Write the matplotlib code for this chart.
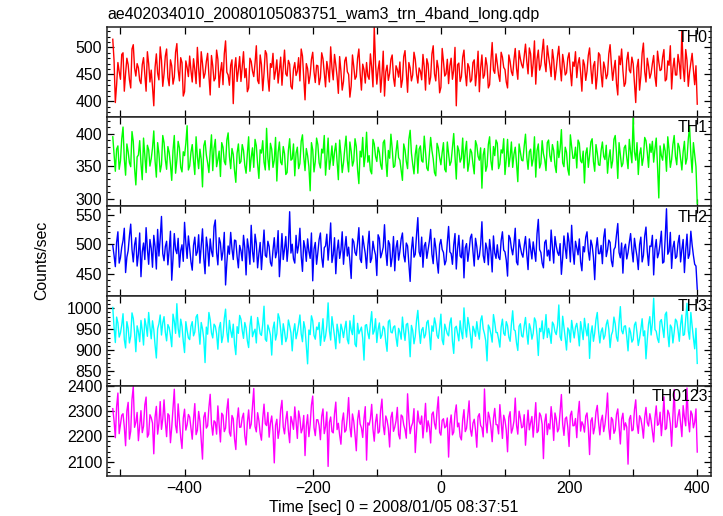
import numpy as np
import matplotlib
matplotlib.use("Agg")
import matplotlib.pyplot as plt
from matplotlib.ticker import MultipleLocator, FuncFormatter

plt.rcParams['font.family'] = ['Liberation Sans', 'DejaVu Sans']

title = "ae402034010_20080105083751_wam3_trn_4band_long.qdp"
xlabel = "Time [sec] 0 = 2008/01/05 08:37:51"
ylabel = "Counts/sec"
band_names = ["TH0", "TH1", "TH2", "TH3", "TH0123"]
band_colors = ["#ff0000", "#00ff00", "#0000ff", "#00ffff", "#ff00ff"]
t_start = -512.0
t_bin = 2.0

th0 = [515,476,398,431,472,455,441,487,490,419,452,480,468,440,425,497,505,462,447,470,
       462,439,433,468,481,450,419,492,470,436,458,427,392,463,488,452,440,501,476,428,
       451,484,497,444,429,477,466,432,445,491,507,459,438,481,472,410,418,475,463,446,
       484,457,436,479,459,433,500,461,427,492,470,443,452,474,489,448,412,485,466,438,
       443,495,478,426,455,472,431,488,512,454,449,430,467,477,396,461,481,437,458,483,
       437,465,492,444,461,418,425,480,474,456,446,471,503,439,433,486,468,420,452,494,
       488,445,419,470,463,489,441,456,477,434,458,482,430,464,495,451,447,476,469,428,
       423,460,472,448,456,481,438,497,484,442,403,470,461,433,449,478,491,455,435,467,
       466,431,444,490,479,453,427,474,458,436,501,462,440,487,468,446,415,483,456,421,
       437,475,482,455,450,408,429,486,465,441,446,480,497,452,421,469,459,434,472,447,
       441,488,463,427,538,470,432,459,475,417,448,493,410,455,467,439,452,478,486,444,
       428,466,459,445,473,426,440,483,494,457,417,472,462,438,449,491,478,451,434,462,
       456,440,487,464,421,479,469,432,445,488,503,451,438,476,461,416,426,498,474,447,
       451,478,433,466,480,441,458,500,392,468,471,437,446,482,495,454,429,470,463,436,
       440,472,477,429,455,493,418,462,486,443,449,481,466,425,431,475,509,458,452,488,
       470,449,437,491,482,463,459,436,425,486,474,455,448,477,498,461,441,494,479,468,
       462,485,506,474,451,499,488,446,470,512,432,478,495,458,467,490,515,472,455,503,
       483,467,446,496,477,440,460,484,502,464,438,487,471,449,453,480,490,457,429,473,
       465,492,444,470,481,453,419,477,468,439,456,485,499,461,433,466,474,423,448,490,
       486,451,427,473,462,442,450,488,505,469,439,460,476,433,412,484,468,497,457,428,
       434,476,491,458,453,482,470,435,398,463,478,421,447,489,508,455,436,480,465,443,
       452,470,485,446,428,493,473,457,459,482,496,438,441,475,467,503,423,461,480,449,
       449,487,470,442,531,463,437,496,476,428,454,471,489,458,431,466,395]

th1 = [395,368,342,376,381,345,358,392,410,361,336,384,372,355,349,403,388,347,321,364,
       367,389,354,329,393,366,340,382,375,350,361,378,404,358,333,386,369,341,352,397,
       386,360,345,380,371,352,328,374,397,339,359,388,378,348,341,372,366,385,412,344,
       350,371,383,358,337,395,364,346,376,360,318,381,389,367,355,340,372,398,343,377,
       391,349,360,373,334,386,379,357,352,390,401,365,346,377,368,343,325,370,384,354,
       357,383,374,351,339,369,395,342,363,378,348,391,381,353,331,375,370,389,356,344,
       408,362,344,385,376,348,359,394,327,371,387,356,352,380,369,337,340,374,392,359,
       361,384,335,370,379,346,354,388,398,364,343,377,366,349,312,386,375,341,357,393,
       383,355,347,376,370,397,336,362,393,345,360,381,351,372,385,358,329,390,368,340,
       355,377,396,359,341,387,373,350,358,392,380,344,323,373,364,394,349,366,402,356,
       366,343,338,391,384,365,357,379,371,352,345,386,390,360,334,374,362,399,377,348,
       350,372,389,363,359,344,328,384,375,357,346,391,405,370,353,338,368,382,339,376,
       381,358,356,396,372,347,343,369,394,374,361,340,335,385,378,363,352,371,386,345,
       341,387,369,351,357,379,400,364,330,381,374,356,362,393,347,373,388,342,355,376,
       371,353,338,389,382,365,359,378,316,367,377,342,350,383,395,358,344,380,366,390,
       385,346,353,375,370,392,337,361,391,349,364,387,348,368,379,354,326,384,372,359,
       358,381,399,364,345,372,376,350,361,395,333,374,384,347,354,389,369,360,343,386,
       390,366,357,383,374,351,340,388,363,376,406,355,349,379,371,345,336,398,380,362,
       362,379,347,390,385,358,355,373,324,369,378,348,366,387,392,357,342,383,370,352,
       351,374,387,365,360,382,339,362,375,347,358,391,397,370,331,386,368,349,354,378,
       382,363,346,391,372,355,425,372,359,386,337,368,378,351,363,394,389,371,348,384,
       371,388,356,376,393,350,301,381,366,359,384,373,342,395,375,348,360,383,397,365,
       352,385,379,361,344,372,388,353,362,391,411,368,340,386,367,349,292]

th2 = [498,481,462,503,521,468,477,495,506,527,452,478,489,514,534,491,470,499,511,463,
       483,519,445,487,502,474,528,492,466,508,493,461,515,496,458,525,480,510,547,484,
       472,496,505,465,490,522,439,476,518,491,484,510,461,489,499,471,537,502,476,514,
       493,470,456,498,512,481,487,516,468,497,526,477,450,512,495,463,509,488,479,530,
       541,486,465,511,502,473,488,520,431,469,497,483,520,492,474,507,506,479,460,498,
       489,472,515,494,448,509,493,466,532,488,470,517,501,460,484,503,457,490,524,481,
       478,505,496,469,463,490,511,477,487,523,445,482,518,474,492,513,471,497,555,485,
       500,475,468,515,485,498,527,480,454,506,494,471,509,488,476,519,438,492,503,466,
       486,508,519,478,461,494,497,517,473,500,536,469,482,511,450,489,507,476,490,521,
       466,493,513,480,495,471,442,509,504,486,481,502,528,475,469,514,498,484,459,497,
       522,469,476,505,491,482,447,516,510,477,485,495,533,488,464,506,500,462,478,513,
       455,494,506,473,488,509,519,481,470,502,497,466,437,490,512,478,483,516,545,487,
       479,512,461,497,503,476,490,505,525,483,467,510,494,470,451,499,508,491,486,465,
       472,503,530,487,484,466,499,518,458,492,515,480,477,507,443,494,501,471,489,511,
       517,488,463,510,496,474,480,499,538,481,469,502,492,465,508,487,453,514,485,476,
       499,478,474,506,521,490,487,473,446,515,510,493,482,501,527,470,465,508,495,484,
       478,497,513,483,457,509,492,475,504,488,471,518,542,491,486,468,460,503,507,480,
       490,472,524,495,468,513,497,486,481,501,449,477,514,494,476,519,503,470,532,489,
       466,505,494,482,509,470,455,496,487,512,521,489,473,507,498,478,440,493,511,484,
       484,498,467,511,526,479,490,507,503,472,462,491,495,516,535,486,477,502,451,493,
       500,475,486,503,518,490,470,510,493,479,457,499,512,470,481,514,529,488,464,497,
       496,515,448,492,508,477,485,501,522,468,470,511,560,483,488,520,459,494,505,476,
       479,502,515,470,491,508,452,490,517,476,483,522,499,481,466,463,424]

th3 = [1002,954,918,979,965,931,941,960,987,925,905,968,952,917,933,989,976,942,896,958,
       944,920,971,947,912,975,958,933,990,955,927,970,949,912,881,951,963,984,936,965,
       980,943,922,961,954,935,908,986,969,940,1011,952,931,974,957,921,894,968,947,929,
       925,957,968,934,943,979,985,948,914,966,951,927,870,955,938,990,973,941,929,962,
       957,939,902,953,966,918,934,975,998,944,919,971,946,930,962,914,889,956,940,983,
       974,947,928,966,953,922,906,958,981,932,943,950,917,978,960,939,935,962,1005,926,
       921,960,950,936,888,951,967,924,939,987,976,949,913,963,945,920,931,972,958,941,
       898,944,963,927,942,961,984,939,920,968,952,910,867,948,937,982,970,935,926,955,
       949,966,911,940,975,921,933,958,1013,946,924,980,956,933,903,962,944,917,962,950,
       930,952,969,925,915,970,948,937,983,914,908,964,939,947,955,928,876,959,961,941,
       927,964,992,938,946,975,918,949,965,928,936,957,951,920,897,968,972,943,941,955,
       958,930,909,952,943,926,979,945,923,961,964,937,884,959,947,915,933,971,995,948,
       916,948,954,929,937,966,971,940,901,958,945,977,962,935,928,954,986,924,913,962,
       950,939,934,965,977,921,892,953,957,940,922,970,943,927,1001,955,931,978,960,936,
       905,957,948,933,968,944,926,971,982,951,939,922,874,960,953,938,919,985,966,942,
       942,926,907,955,974,940,935,968,958,931,921,962,994,949,946,917,899,957,963,934,
       931,958,978,941,914,963,951,926,940,977,969,936,887,952,944,970,927,948,985,930,
       952,938,916,967,961,944,937,959,1008,932,923,981,956,929,900,953,947,919,971,949,
       929,955,964,942,910,968,948,925,976,951,934,963,880,938,958,921,941,973,990,946,
       917,944,953,926,935,961,972,950,906,936,945,979,963,931,921,966,1004,947,939,957,
       958,932,898,953,942,919,925,960,967,941,911,928,950,975,934,946,879,925,962,980,
       936,965,1024,949,945,927,918,968,973,952,930,985,991,940,908,960,954,917,943,974,
       969,948,921,961,984,935,937,975,1012,946,926,990,958,929,903,952,868]

th0123 = [2310,2262,2195,2318,2372,2211,2248,2284,2290,2237,2163,2301,2335,2189,2221,2347,2398,2236,2256,2295,
          2183,2241,2302,2215,2240,2325,2356,2197,2208,2286,2274,2253,2131,2277,2319,2209,2251,2338,2228,2269,
          2345,2258,2199,2290,2283,2175,2236,2313,2387,2244,2214,2329,2265,2196,2152,2271,2308,2225,2246,2287,
          2277,2232,2189,2268,2330,2207,2224,2299,2261,2186,2110,2276,2295,2233,2242,2314,2367,2250,2205,2262,
          2256,2209,2321,2245,2178,2292,2284,2219,2233,2306,2349,2216,2201,2283,2270,2190,2148,2264,2313,2236,
          2237,2274,2292,2203,2166,2256,2305,2231,2249,2322,2390,2239,2218,2294,2263,2212,2185,2271,2328,2250,
          2243,2295,2197,2253,2281,2220,2095,2244,2268,2192,2226,2307,2343,2238,2210,2265,2299,2223,2175,2279,
          2258,2228,2317,2259,2192,2301,2272,2214,2231,2283,2124,2241,2286,2199,2247,2325,2360,2235,2203,2266,
          2266,2243,2187,2280,2309,2211,2239,2297,2081,2256,2277,2219,2214,2290,2336,2227,2252,2205,2169,2261,
          2293,2217,2225,2276,2354,2238,2198,2289,2261,2207,2143,2265,2303,2249,2234,2196,2271,2318,2106,2254,
          2245,2270,2327,2229,2181,2256,2288,2213,2219,2305,2348,2244,2207,2281,2264,2232,2158,2275,2296,2220,
          2236,2262,2315,2208,2190,2285,2279,2246,2227,2193,2369,2272,2211,2240,2254,2310,2136,2223,2301,2259,
          2248,2281,2194,2256,2331,2218,2262,2237,2174,2288,2297,2251,2229,2303,2357,2216,2205,2264,2270,2234,
          2240,2273,2118,2247,2285,2206,2217,2292,2325,2238,2253,2199,2186,2266,2306,2219,2232,2283,2341,2228,
          2201,2252,2268,2225,2157,2279,2290,2243,2235,2198,2388,2260,2214,2296,2275,2237,2179,2270,2311,2247,
          2246,2210,2326,2257,2192,2284,2264,2224,2139,2276,2298,2213,2231,2261,2352,2244,2209,2300,2273,2234,
          2238,2286,2165,2241,2304,2226,2255,2279,2197,2262,2334,2215,2222,2293,2281,2248,2112,2257,2289,2207,
          2250,2229,2318,2265,2184,2293,2269,2218,2230,2301,2366,2249,2204,2270,2277,2236,2160,2284,2300,2242,
          2243,2271,2195,2288,2339,2221,2258,2246,2217,2280,2293,2233,2128,2261,2274,2210,2236,2297,2323,2255,
          2206,2263,2284,2219,2247,2298,2372,2234,2188,2275,2266,2212,2225,2287,2309,2241,2170,2268,2292,2226,
          2254,2237,2090,2268,2283,2222,2226,2305,2345,2250,2212,2282,2270,2239,2193,2276,2315,2255,2241,2290,
          2262,2219,2178,2273,2321,2244,2249,2296,2203,2267,2357,2227,2232,2304,2290,2251,2161,2280,2386,2236,
          2238,2280,2306,2253,2199,2322,2275,2242,2392,2266,2218,2301,2287,2234,2256,2309,2138]

series = [th0, th1, th2, th3, th0123]
ylims = [(372, 538), (288, 426), (412, 564), (814, 1029), (2044, 2400)]
ymajor = [50, 50, 50, 50, 100]
yminor = [10, 10, 10, 10, 20]
FS = 11.4

fig, axes = plt.subplots(5, 1, sharex=True, figsize=(7.23, 5.16), dpi=100)
fig.subplots_adjust(left=0.148, right=0.983, top=0.948, bottom=0.078, hspace=0)

for ax, vals, name, col, yl, ma, mi in zip(axes, series, band_names, band_colors,
                                           ylims, ymajor, yminor):
    v = np.asarray(vals, dtype=float)
    t = t_start + t_bin * np.arange(len(v))
    ax.plot(t, v, color=col, lw=1.0)
    ax.set_ylim(*yl)
    ax.set_xlim(-521, 421)
    ax.yaxis.set_major_locator(MultipleLocator(ma))
    ax.yaxis.set_minor_locator(MultipleLocator(mi))
    ax.xaxis.set_major_locator(MultipleLocator(100))
    ax.tick_params(which='both', direction='in', top=True, right=True,
                   labelsize=FS, colors='black')
    ax.tick_params(which='major', length=5, width=0.9)
    ax.tick_params(which='minor', length=2.5, width=0.8)
    for s in ax.spines.values():
        s.set_linewidth(1.1)
        s.set_color('#222222')
    ax.text(0.995, 0.965, name, transform=ax.transAxes, ha='right', va='top',
            fontsize=FS)

axes[-1].xaxis.set_major_formatter(
    FuncFormatter(lambda x, p: ("%d" % x).replace('-', '\u2212') if int(round(x)) % 200 == 0 else ""))

fig.text(0.148, 0.972, title, ha='left', va='center', fontsize=FS)
fig.text(0.058, 0.496, ylabel, rotation=90, ha='center', va='center', fontsize=FS)
fig.text(0.545, 0.017, xlabel, ha='center', va='center', fontsize=FS)

fig.savefig("out.png", dpi=100)
